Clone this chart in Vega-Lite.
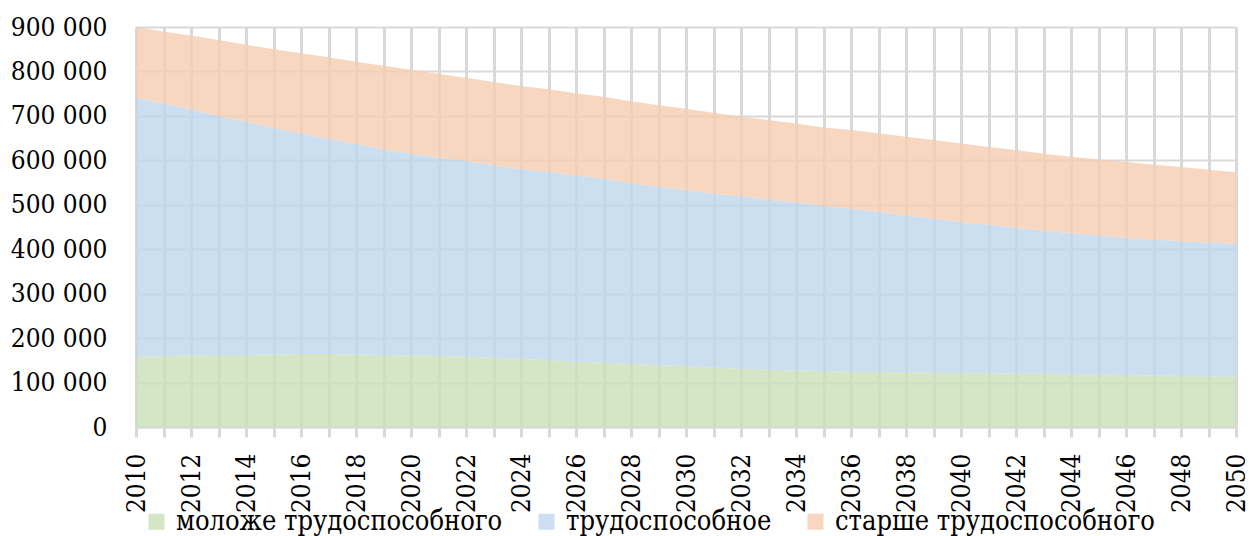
{
  "$schema": "https://vega.github.io/schema/vega-lite/v6.json",
  "autosize": {"type": "none"},
  "width": 1100,
  "height": 400,
  "padding": {"left": 136, "top": 27, "right": 15, "bottom": 109},
  "background": "white",
  "config": {
    "view": {"stroke": null},
    "font": "DejaVu Serif Condensed"
  },
  "data": {
    "values": [
      {"year": 2010, "group": "моложе трудоспособного", "value": 158000},
      {"year": 2010, "group": "трудоспособное", "value": 583000},
      {"year": 2010, "group": "старше трудоспособного", "value": 159000},
      {"year": 2011, "group": "моложе трудоспособного", "value": 159000},
      {"year": 2011, "group": "трудоспособное", "value": 569000},
      {"year": 2011, "group": "старше трудоспособного", "value": 162000},
      {"year": 2012, "group": "моложе трудоспособного", "value": 161000},
      {"year": 2012, "group": "трудоспособное", "value": 554000},
      {"year": 2012, "group": "старше трудоспособного", "value": 166000},
      {"year": 2013, "group": "моложе трудоспособного", "value": 162000},
      {"year": 2013, "group": "трудоспособное", "value": 538000},
      {"year": 2013, "group": "старше трудоспособного", "value": 171000},
      {"year": 2014, "group": "моложе трудоспособного", "value": 162000},
      {"year": 2014, "group": "трудоспособное", "value": 525000},
      {"year": 2014, "group": "старше трудоспособного", "value": 173000},
      {"year": 2015, "group": "моложе трудоспособного", "value": 163000},
      {"year": 2015, "group": "трудоспособное", "value": 510000},
      {"year": 2015, "group": "старше трудоспособного", "value": 177000},
      {"year": 2016, "group": "моложе трудоспособного", "value": 164000},
      {"year": 2016, "group": "трудоспособное", "value": 497000},
      {"year": 2016, "group": "старше трудоспособного", "value": 180000},
      {"year": 2017, "group": "моложе трудоспособного", "value": 164000},
      {"year": 2017, "group": "трудоспособное", "value": 484000},
      {"year": 2017, "group": "старше трудоспособного", "value": 184000},
      {"year": 2018, "group": "моложе трудоспособного", "value": 163000},
      {"year": 2018, "group": "трудоспособное", "value": 474000},
      {"year": 2018, "group": "старше трудоспособного", "value": 185000},
      {"year": 2019, "group": "моложе трудоспособного", "value": 162000},
      {"year": 2019, "group": "трудоспособное", "value": 463000},
      {"year": 2019, "group": "старше трудоспособного", "value": 188000},
      {"year": 2020, "group": "моложе трудоспособного", "value": 161000},
      {"year": 2020, "group": "трудоспособное", "value": 454000},
      {"year": 2020, "group": "старше трудоспособного", "value": 189000},
      {"year": 2021, "group": "моложе трудоспособного", "value": 160000},
      {"year": 2021, "group": "трудоспособное", "value": 446000},
      {"year": 2021, "group": "старше трудоспособного", "value": 188000},
      {"year": 2022, "group": "моложе трудоспособного", "value": 158000},
      {"year": 2022, "group": "трудоспособное", "value": 441000},
      {"year": 2022, "group": "старше трудоспособного", "value": 187000},
      {"year": 2023, "group": "моложе трудоспособного", "value": 156000},
      {"year": 2023, "group": "трудоспособное", "value": 433000},
      {"year": 2023, "group": "старше трудоспособного", "value": 187000},
      {"year": 2024, "group": "моложе трудоспособного", "value": 153000},
      {"year": 2024, "group": "трудоспособное", "value": 427000},
      {"year": 2024, "group": "старше трудоспособного", "value": 187000},
      {"year": 2025, "group": "моложе трудоспособного", "value": 150000},
      {"year": 2025, "group": "трудоспособное", "value": 424000},
      {"year": 2025, "group": "старше трудоспособного", "value": 186000},
      {"year": 2026, "group": "моложе трудоспособного", "value": 147000},
      {"year": 2026, "group": "трудоспособное", "value": 419000},
      {"year": 2026, "group": "старше трудоспособного", "value": 185000},
      {"year": 2027, "group": "моложе трудоспособного", "value": 145000},
      {"year": 2027, "group": "трудоспособное", "value": 414000},
      {"year": 2027, "group": "старше трудоспособного", "value": 184000},
      {"year": 2028, "group": "моложе трудоспособного", "value": 142000},
      {"year": 2028, "group": "трудоспособное", "value": 407000},
      {"year": 2028, "group": "старше трудоспособного", "value": 184000},
      {"year": 2029, "group": "моложе трудоспособного", "value": 139000},
      {"year": 2029, "group": "трудоспособное", "value": 401000},
      {"year": 2029, "group": "старше трудоспособного", "value": 184000},
      {"year": 2030, "group": "моложе трудоспособного", "value": 137000},
      {"year": 2030, "group": "трудоспособное", "value": 396000},
      {"year": 2030, "group": "старше трудоспособного", "value": 183000},
      {"year": 2031, "group": "моложе трудоспособного", "value": 134000},
      {"year": 2031, "group": "трудоспособное", "value": 391000},
      {"year": 2031, "group": "старше трудоспособного", "value": 182000},
      {"year": 2032, "group": "моложе трудоспособного", "value": 131000},
      {"year": 2032, "group": "трудоспособное", "value": 388000},
      {"year": 2032, "group": "старше трудоспособного", "value": 179000},
      {"year": 2033, "group": "моложе трудоспособного", "value": 129000},
      {"year": 2033, "group": "трудоспособное", "value": 383000},
      {"year": 2033, "group": "старше трудоспособного", "value": 179000},
      {"year": 2034, "group": "моложе трудоспособного", "value": 127000},
      {"year": 2034, "group": "трудоспособное", "value": 378000},
      {"year": 2034, "group": "старше трудоспособного", "value": 178000},
      {"year": 2035, "group": "моложе трудоспособного", "value": 126000},
      {"year": 2035, "group": "трудоспособное", "value": 372000},
      {"year": 2035, "group": "старше трудоспособного", "value": 176000},
      {"year": 2036, "group": "моложе трудоспособного", "value": 124000},
      {"year": 2036, "group": "трудоспособное", "value": 367000},
      {"year": 2036, "group": "старше трудоспособного", "value": 177000},
      {"year": 2037, "group": "моложе трудоспособного", "value": 123000},
      {"year": 2037, "group": "трудоспособное", "value": 361000},
      {"year": 2037, "group": "старше трудоспособного", "value": 177000},
      {"year": 2038, "group": "моложе трудоспособного", "value": 123000},
      {"year": 2038, "group": "трудоспособное", "value": 353000},
      {"year": 2038, "group": "старше трудоспособного", "value": 177000},
      {"year": 2039, "group": "моложе трудоспособного", "value": 122000},
      {"year": 2039, "group": "трудоспособное", "value": 347000},
      {"year": 2039, "group": "старше трудоспособного", "value": 177000},
      {"year": 2040, "group": "моложе трудоспособного", "value": 121000},
      {"year": 2040, "group": "трудоспособное", "value": 340000},
      {"year": 2040, "group": "старше трудоспособного", "value": 177000},
      {"year": 2041, "group": "моложе трудоспособного", "value": 121000},
      {"year": 2041, "group": "трудоспособное", "value": 334000},
      {"year": 2041, "group": "старше трудоспособного", "value": 175000},
      {"year": 2042, "group": "моложе трудоспособного", "value": 120000},
      {"year": 2042, "group": "трудоспособное", "value": 328000},
      {"year": 2042, "group": "старше трудоспособного", "value": 175000},
      {"year": 2043, "group": "моложе трудоспособного", "value": 120000},
      {"year": 2043, "group": "трудоспособное", "value": 322000},
      {"year": 2043, "group": "старше трудоспособного", "value": 173000},
      {"year": 2044, "group": "моложе трудоспособного", "value": 119000},
      {"year": 2044, "group": "трудоспособное", "value": 317000},
      {"year": 2044, "group": "старше трудоспособного", "value": 172000},
      {"year": 2045, "group": "моложе трудоспособного", "value": 118000},
      {"year": 2045, "group": "трудоспособное", "value": 313000},
      {"year": 2045, "group": "старше трудоспособного", "value": 171000},
      {"year": 2046, "group": "моложе трудоспособного", "value": 117000},
      {"year": 2046, "group": "трудоспособное", "value": 308000},
      {"year": 2046, "group": "старше трудоспособного", "value": 171000},
      {"year": 2047, "group": "моложе трудоспособного", "value": 116000},
      {"year": 2047, "group": "трудоспособное", "value": 306000},
      {"year": 2047, "group": "старше трудоспособного", "value": 168000},
      {"year": 2048, "group": "моложе трудоспособного", "value": 115000},
      {"year": 2048, "group": "трудоспособное", "value": 303000},
      {"year": 2048, "group": "старше трудоспособного", "value": 167000},
      {"year": 2049, "group": "моложе трудоспособного", "value": 114000},
      {"year": 2049, "group": "трудоспособное", "value": 301000},
      {"year": 2049, "group": "старше трудоспособного", "value": 164000},
      {"year": 2050, "group": "моложе трудоспособного", "value": 114000},
      {"year": 2050, "group": "трудоспособное", "value": 298000},
      {"year": 2050, "group": "старше трудоспособного", "value": 161000}
    ]
  },
  "transform": [
    {"calculate": "indexof(['моложе трудоспособного', 'трудоспособное', 'старше трудоспособного'], datum.group)", "as": "stackOrder"}
  ],
  "mark": {"type": "area", "opacity": 0.8, "interpolate": "linear"},
  "encoding": {
    "x": {
      "field": "year",
      "type": "quantitative",
      "scale": {"domain": [2010, 2050], "nice": false, "zero": false},
      "axis": {
        "title": null,
        "values": [2010,2011,2012,2013,2014,2015,2016,2017,2018,2019,2020,2021,2022,2023,2024,2025,2026,2027,2028,2029,2030,2031,2032,2033,2034,2035,2036,2037,2038,2039,2040,2041,2042,2043,2044,2045,2046,2047,2048,2049,2050],
        "labelExpr": "datum.value % 2 == 0 ? format(datum.value, 'd') : ''",
        "labelAngle": -90,
        "labelAlign": "right",
        "labelBaseline": "middle",
        "labelOverlap": false,
        "labelFlush": false,
        "labelFont": "DejaVu Serif Condensed",
        "labelFontSize": 26,
        "labelColor": "black",
        "labelPadding": 16,
        "grid": true,
        "gridColor": "#d9d9d9",
        "gridWidth": 3,
        "ticks": true,
        "tickColor": "#d9d9d9",
        "tickWidth": 3,
        "tickSize": 10,
        "domain": true,
        "domainColor": "#d9d9d9",
        "domainWidth": 2
      }
    },
    "y": {
      "field": "value",
      "type": "quantitative",
      "stack": "zero",
      "scale": {"domain": [0, 900000], "nice": false},
      "axis": {
        "title": null,
        "values": [0,100000,200000,300000,400000,500000,600000,700000,800000,900000],
        "labelExpr": "replace(format(datum.value, ','), ',', ' ')",
        "labelFont": "DejaVu Serif Condensed",
        "labelFontSize": 26,
        "labelColor": "black",
        "labelPadding": 29,
        "ticks": false,
        "domain": false,
        "grid": true,
        "gridColor": "#d9d9d9",
        "gridWidth": 2
      }
    },
    "order": {"field": "stackOrder", "type": "quantitative", "sort": "ascending"},
    "color": {
      "field": "group",
      "type": "nominal",
      "scale": {
        "domain": ["моложе трудоспособного", "трудоспособное", "старше трудоспособного"],
        "range": ["#c9e0b7", "#bfd7ec", "#f5cdaf"]
      },
      "legend": {
        "title": null,
        "orient": "none",
        "direction": "horizontal",
        "legendX": 7,
        "legendY": 481,
        "symbolType": "square",
        "symbolSize": 256,
        "symbolStrokeWidth": 0,
        "labelFont": "DejaVu Serif Condensed",
        "labelFontSize": 27,
        "labelColor": "black",
        "labelOffset": 6,
        "labelLimit": 500,
        "columnPadding": 30
      }
    }
  }
}
